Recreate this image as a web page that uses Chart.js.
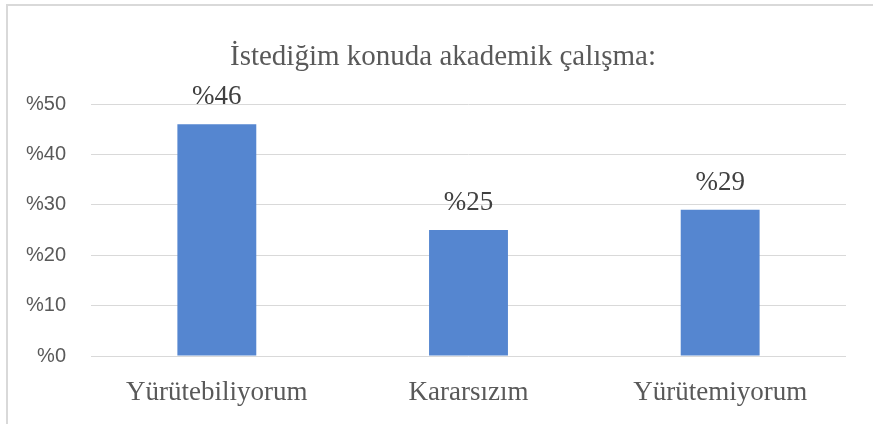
<!DOCTYPE html>
<html lang="tr">
<head>
<meta charset="utf-8">
<title>İstediğim konuda akademik çalışma</title>
<script src="https://cdn.jsdelivr.net/npm/chart.js@4.4.1/dist/chart.umd.min.js"></script>
<style>
    html, body { margin: 0; padding: 0; background: #fff; }
    #frame {
        position: absolute;
        left: 6px;
        top: 4px;
        width: 880px;
        height: 440px;
        border-top: 2px solid #d9d9d9;
        border-left: 2px solid #d9d9d9;
        pointer-events: none;
    }
    #box { position: absolute; left: 0; top: 0; width: 873px; height: 424px; }
</style>
</head>
<body>
<div id="box"><canvas id="myChart"></canvas></div>
<div id="frame"></div>
<script>
// Veriler
const chartTitle = 'İstediğim konuda akademik çalışma:';
const categories = ['Yürütebiliyorum', 'Kararsızım', 'Yürütemiyorum'];
const percentages = [46, 25, 29];
const yTicks = [0, 10, 20, 30, 40, 50];

const serif = '"Liberation Serif", "DejaVu Serif", serif';
const sans = '"Liberation Sans", Arial, sans-serif';

// Başlık (çerçevenin ortasına göre) ve çubuk üstü yüzde etiketleri
const textLayer = {
    id: 'textLayer',
    afterDraw(chart) {
        const ctx = chart.ctx;
        ctx.save();
        ctx.textAlign = 'center';

        ctx.font = '29px ' + serif;
        ctx.fillStyle = '#595959';
        ctx.textBaseline = 'middle';
        ctx.fillText(chartTitle, chart.width / 2 + 6.5, 57);

        ctx.font = '27px ' + serif;
        ctx.fillStyle = '#404040';
        ctx.textBaseline = 'alphabetic';
        chart.getDatasetMeta(0).data.forEach((bar, i) => {
            ctx.fillText('%' + percentages[i], bar.x, bar.y - 20);
        });
        ctx.restore();
    }
};

new Chart(document.getElementById('myChart'), {
    type: 'bar',
    data: {
        labels: categories,
        datasets: [{
            data: percentages,
            backgroundColor: '#5586D0',
            barPercentage: 0.5,
            categoryPercentage: 0.627
        }]
    },
    options: {
        responsive: true,
        maintainAspectRatio: false,
        animation: false,
        layout: {
            padding: { left: 0, right: 27, top: 104, bottom: 0 }
        },
        plugins: {
            legend: { display: false },
            tooltip: { enabled: false },
            title: { display: false }
        },
        scales: {
            y: {
                min: 0,
                max: 50,
                afterFit(scale) { scale.width = 91; },
                afterBuildTicks(scale) {
                    scale.ticks = yTicks.map(v => ({ value: v }));
                },
                border: { display: false },
                grid: { color: '#d9d9d9', lineWidth: 1, drawTicks: false },
                ticks: {
                    padding: 25,
                    color: '#595959',
                    font: { family: sans, size: 20 },
                    callback: v => '%' + v
                }
            },
            x: {
                afterFit(scale) { scale.height = 68; },
                border: { display: false },
                grid: { display: false, drawTicks: false },
                ticks: {
                    padding: 21,
                    color: '#595959',
                    font: { family: serif, size: 27 },
                    maxRotation: 0
                }
            }
        }
    },
    plugins: [textLayer]
});
</script>
</body>
</html>
